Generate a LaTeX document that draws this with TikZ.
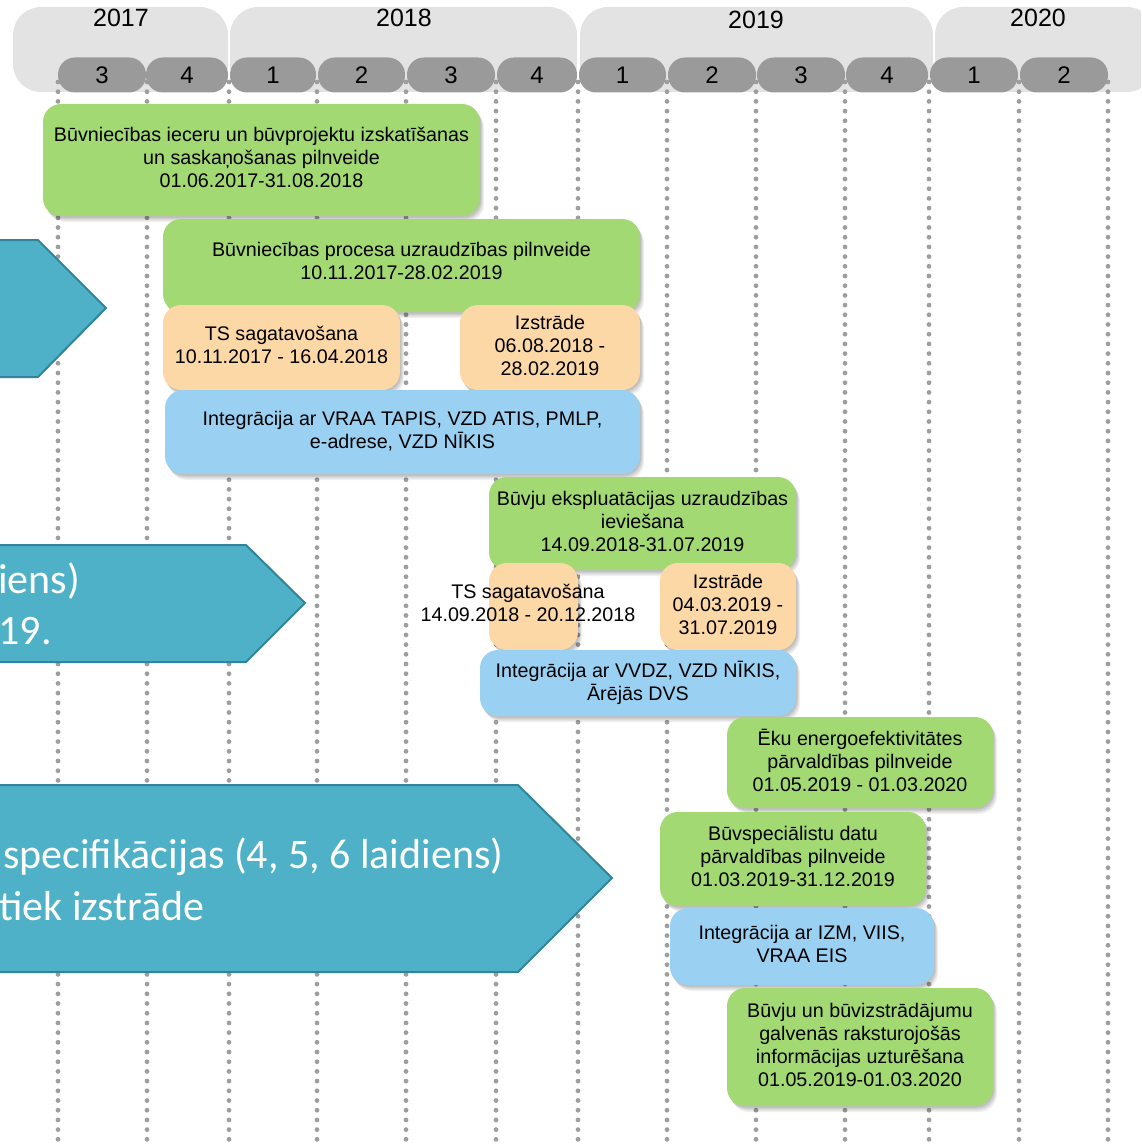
\documentclass[tikz,border=0pt]{standalone}
\usepackage{fontspec}
\setmainfont{Liberation Sans}
\newfontfamily\arrowfont{Carlito}
\usetikzlibrary{shadows}
\definecolor{yearbg}{HTML}{E3E3E3}
\definecolor{pillc}{HTML}{9A9A9A}
\definecolor{dotc}{HTML}{9E9E9E}
\definecolor{grn}{HTML}{A2D973}
\definecolor{org}{HTML}{FDD8A7}
\definecolor{blu}{HTML}{9AD1F3}
\definecolor{tealf}{HTML}{4EB1C8}
\definecolor{teald}{HTML}{31849B}
\tikzset{
  yearbox/.style={fill=yearbg, rounded corners=28pt, inner sep=0pt},
  yeartext/.style={font=\fontsize{25}{28}\selectfont, inner sep=0pt, text=black},
  pill/.style={fill=pillc, rounded corners=17pt, inner sep=0pt, minimum height=35pt, font=\fontsize{24}{28}\selectfont},
  grid/.style={dotc, line width=4.8pt, line cap=round, dash pattern=on 0pt off 9.7pt},
  softshadow/.style={
    general shadow={shadow xshift=1pt, shadow yshift=-1.5pt, opacity=0.08, fill=black},
    general shadow={shadow xshift=2pt, shadow yshift=-3pt, opacity=0.08, fill=black},
    general shadow={shadow xshift=3pt, shadow yshift=-4.5pt, opacity=0.07, fill=black},
    general shadow={shadow xshift=4pt, shadow yshift=-6pt, opacity=0.06, fill=black}},
  box/.style={rounded corners=18pt, align=center, inner sep=0pt, text=black,
    font=\fontsize{19.7}{23}\selectfont, text depth=5pt, softshadow},
  gbox/.style={box, fill=grn},
  obox/.style={box, fill=org},
  bbox/.style={box, fill=blu},
  freetext/.style={align=center, inner sep=0pt, text=black, font=\fontsize{19.7}{23}\selectfont},
  arrowshape/.style={fill=tealf, draw=teald, line width=2pt, line join=miter},
  arrowtext/.style={inner sep=0pt, text=white, font=\arrowfont\fontsize{42}{50}\selectfont},
}
\begin{document}
\begin{tikzpicture}[x=1pt,y=-1pt]
\useasboundingbox (0,0) rectangle (1141,1145);
\clip (0,0) rectangle (1141,1145);
% year boxes
\node[yearbox, minimum width=215pt, minimum height=85pt] (y17) at (120.5,49.5) {};
\node[yearbox, minimum width=347pt, minimum height=85pt] (y18) at (403.5,49.5) {};
\node[yearbox, minimum width=353pt, minimum height=85pt] (y19) at (756.5,49.5) {};
\node[yearbox, minimum width=220pt, minimum height=85pt] (y20) at (1045,49.5) {};
\node[yeartext] (t17) at (121,18) {2017};
\node[yeartext] (t18) at (404,18) {2018};
\node[yeartext] (t19) at (756,20) {2019};
\node[yeartext] (t20) at (1038,18) {2020};
% dotted grid lines
\foreach \gx in {58,147,229,317,406,496,578,667,756,845,929,1019,1108}
  \draw[grid] (\gx,82) -- (\gx,1150);
% quarter pills
\node[pill, minimum width=88pt] (p1) at (102,75) {3};
\node[pill, minimum width=82pt] (p2) at (187,75) {4};
\node[pill, minimum width=86pt] (p3) at (273,75) {1};
\node[pill, minimum width=87pt] (p4) at (361.5,75) {2};
\node[pill, minimum width=88pt] (p5) at (451,75) {3};
\node[pill, minimum width=80pt] (p6) at (537,75) {4};
\node[pill, minimum width=87pt] (p7) at (622.5,75) {1};
\node[pill, minimum width=88pt] (p8) at (712,75) {2};
\node[pill, minimum width=88pt] (p9) at (801,75) {3};
\node[pill, minimum width=82pt] (p10) at (887,75) {4};
\node[pill, minimum width=88pt] (p11) at (974,75) {1};
\node[pill, minimum width=88pt] (p12) at (1064,75) {2};
% teal arrows
\draw[arrowshape] (-10,240) -- (38,240) -- (106,308) -- (38,377) -- (-10,377) -- cycle;
\draw[arrowshape] (-10,545) -- (246,545) -- (305,603) -- (246,662) -- (-10,662) -- cycle;
\draw[arrowshape] (-10,785) -- (518,785) -- (612,878) -- (518,972) -- (-10,972) -- cycle;
\node[arrowtext, anchor=east] (a2l1) at (80,581) {iens)};
\node[arrowtext, anchor=east] (a2l2) at (52,631) {19.};
\node[arrowtext, anchor=west] (a3l1) at (3,857) {specifikācijas (4, 5, 6 laidiens)};
\node[arrowtext, anchor=west] (a3l2) at (-1,906) {tiek izstrāde};
% group 1
\node[gbox, minimum width=437pt, minimum height=112pt] (g1) at (261.5,160) {Būvniecības ieceru un būvprojektu izskatīšanas\\un saskaņošanas pilnveide\\01.06.2017-31.08.2018};
\node[gbox, minimum width=477pt, minimum height=93pt, text depth=9pt] (g2) at (401.5,265.5) {Būvniecības procesa uzraudzības pilnveide\\10.11.2017-28.02.2019};
\node[obox, minimum width=237pt, minimum height=85pt] (o1) at (281.5,347.5) {TS sagatavošana\\10.11.2017 - 16.04.2018};
\node[obox, minimum width=180pt, minimum height=85pt] (o2) at (550,347.5) {Izstrāde\\06.08.2018 -\\28.02.2019};
\node[bbox, minimum width=475pt, minimum height=84pt] (b1) at (402.5,432) {Integrācija ar VRAA TAPIS, VZD ATIS, PMLP,\\e-adrese, VZD NĪKIS};
% group 2
\node[gbox, minimum width=307pt, minimum height=93pt] (g3) at (642.5,523.5) {Būvju ekspluatācijas uzraudzības\\ieviešana\\14.09.2018-31.07.2019};
\node[obox, minimum width=89pt, minimum height=87pt] (o3) at (533.5,606.5) {};
\node[freetext] (o3t) at (528,603) {TS sagatavošana\\14.09.2018 - 20.12.2018};
\node[obox, minimum width=136pt, minimum height=87pt] (o4) at (728,606.5) {Izstrāde\\04.03.2019 -\\31.07.2019};
\node[bbox, minimum width=316pt, minimum height=66pt] (b2) at (638,683) {Integrācija ar VVDZ, VZD NĪKIS,\\Ārējās DVS};
% group 3
\node[gbox, minimum width=266pt, minimum height=91pt] (g4) at (860,762.5) {Ēku energoefektivitātes\\pārvaldības pilnveide\\01.05.2019 - 01.03.2020};
\node[gbox, minimum width=266pt, minimum height=94pt] (g5) at (793,859) {Būvspeciālistu datu\\pārvaldības pilnveide\\01.03.2019-31.12.2019};
\node[bbox, minimum width=264pt, minimum height=77pt] (b3) at (802,946.5) {Integrācija ar IZM, VIIS,\\VRAA EIS};
\node[gbox, minimum width=266pt, minimum height=118pt] (g6) at (860,1047) {Būvju un būvizstrādājumu\\galvenās raksturojošās\\informācijas uzturēšana\\01.05.2019-01.03.2020};
\end{tikzpicture}
\end{document}
